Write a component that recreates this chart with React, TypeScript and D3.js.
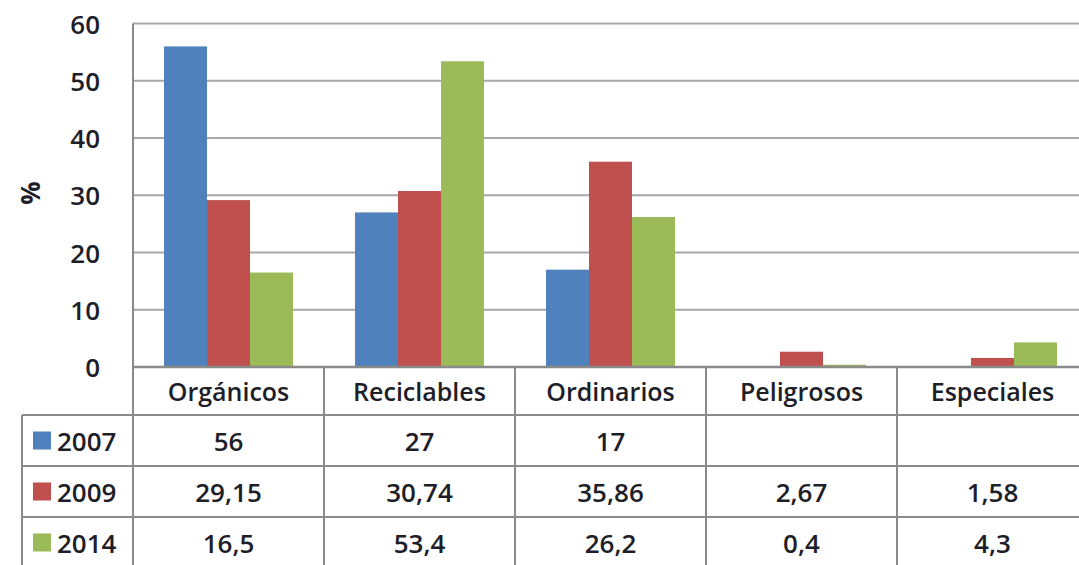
import React from "react";
import * as d3 from "d3";

const categories = ["Orgánicos", "Reciclables", "Ordinarios", "Peligrosos", "Especiales"];
const years = ["2007", "2009", "2014"];
const values2007: (number | null)[] = [56, 27, 17, null, null];
const values2009: (number | null)[] = [29.15, 30.74, 35.86, 2.67, 1.58];
const values2014: (number | null)[] = [16.5, 53.4, 26.2, 0.4, 4.3];
const labels2007 = ["56", "27", "17", "", ""];
const labels2009 = ["29,15", "30,74", "35,86", "2,67", "1,58"];
const labels2014 = ["16,5", "53,4", "26,2", "0,4", "4,3"];
const yTicks = [0, 10, 20, 30, 40, 50, 60];
const colors = ["#4F81BD", "#C0504D", "#9BBB59"];

const series = [values2007, values2009, values2014];
const tableLabels = [labels2007, labels2009, labels2014];

const W = 1079;
const H = 565;
const FONT = "'Open Sans', sans-serif";
const TEXT = "#1e1e28";
const WEIGHT = 600;

export default function App() {
  const plotLeft = 133;
  const plotRight = 1088;
  const yTop = 23.5;
  const yBase = 367;
  const x = d3.scaleBand<string>().domain(categories).range([plotLeft, plotRight]).padding(0);
  const y = d3.scaleLinear().domain([0, 60]).range([yBase, yTop]);
  const inner = d3
    .scaleBand<string>()
    .domain(years)
    .range([31, x.bandwidth() - 31])
    .padding(0);

  const rowTops = [367, 415, 466, 517, 568];
  const legendLeft = 22;
  const gridColor = "#a8a8a8";
  const tableColor = "#8a8a8a";

  return (
    <svg
      width={W}
      height={H}
      style={{ position: "absolute", left: 0, top: 0, background: "#fff" }}
      fontFamily={FONT}
      fontWeight={WEIGHT}
    >
      {/* gridlines */}
      {yTicks.filter((t) => t > 0).map((t) => (
        <line key={t} x1={plotLeft} x2={plotRight} y1={y(t)} y2={y(t)} stroke={gridColor} strokeWidth={2} />
      ))}
      {/* bars */}
      {series.map((vals, si) =>
        vals.map((v, ci) =>
          v == null ? null : (
            <rect
              key={`${si}-${ci}`}
              x={(x(categories[ci]) as number) + (inner(years[si]) as number)}
              y={y(v)}
              width={inner.bandwidth()}
              height={yBase - y(v)}
              fill={colors[si]}
            />
          )
        )
      )}
      {/* y axis line */}
      <line x1={plotLeft} x2={plotLeft} y1={yTop} y2={H} stroke={tableColor} strokeWidth={2} />
      {/* y tick labels */}
      {yTicks.map((t) => (
        <text key={t} x={100} y={y(t)} textAnchor="end" dominantBaseline="central" fontSize={26} fill={TEXT}>
          {t}
        </text>
      ))}
      <text
        transform={`translate(30,193) rotate(-90)`}
        textAnchor="middle"
        dominantBaseline="central"
        fontSize={26}
        fontWeight="bold"
        fill={TEXT}
      >
        %
      </text>
      {/* table horizontal lines */}
      <line x1={plotLeft} x2={plotRight} y1={rowTops[0]} y2={rowTops[0]} stroke={tableColor} strokeWidth={2.5} />
      {rowTops.slice(1, 4).map((r) => (
        <line key={r} x1={legendLeft} x2={plotRight} y1={r} y2={r} stroke={tableColor} strokeWidth={2} />
      ))}
      {/* table vertical lines */}
      <line x1={legendLeft} x2={legendLeft} y1={rowTops[1]} y2={H} stroke={tableColor} strokeWidth={2} />
      {categories.map((c, i) =>
        i === 0 ? null : (
          <line key={c} x1={x(c)} x2={x(c)} y1={yBase} y2={H} stroke={tableColor} strokeWidth={2} />
        )
      )}
      {/* category labels */}
      {categories.map((c) => (
        <text
          key={c}
          x={(x(c) as number) + x.bandwidth() / 2}
          y={(rowTops[0] + rowTops[1]) / 2}
          textAnchor="middle"
          dominantBaseline="central"
          fontSize={25}
          fill={TEXT}
        >
          {c}
        </text>
      ))}
      {/* legend column + values */}
      {years.map((yr, si) => {
        const top = rowTops[si + 1];
        const bot = rowTops[si + 2];
        const cy = (top + bot) / 2;
        return (
          <g key={yr}>
            <rect x={33} y={cy - 9} width={18} height={18} fill={colors[si]} />
            <text x={57} y={cy} dominantBaseline="central" fontSize={26} fill={TEXT}>
              {yr}
            </text>
            {tableLabels[si].map((lab, ci) => (
              <text
                key={ci}
                x={(x(categories[ci]) as number) + x.bandwidth() / 2}
                y={cy}
                textAnchor="middle"
                dominantBaseline="central"
                fontSize={26}
                fill={TEXT}
              >
                {lab}
              </text>
            ))}
          </g>
        );
      })}
    </svg>
  );
}
